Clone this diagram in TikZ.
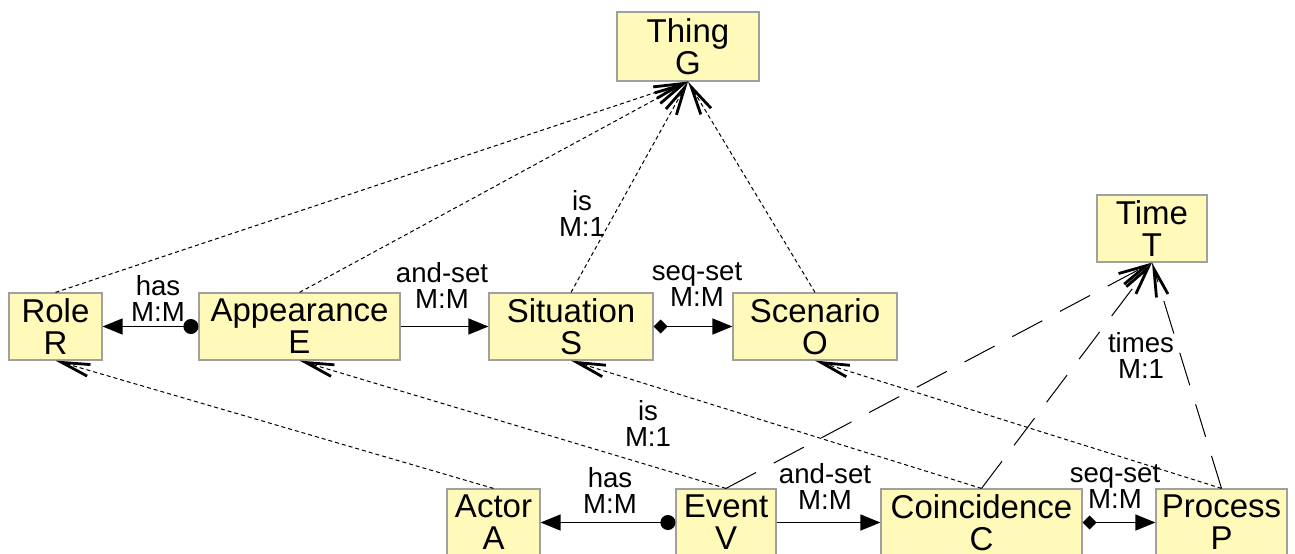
\documentclass[tikz,border=0pt]{standalone}
\usepackage{fontspec}
\setmainfont{Liberation Sans}
\usetikzlibrary{arrows.meta}
\definecolor{boxfill}{RGB}{255,250,185}
\definecolor{boxdraw}{RGB}{160,160,160}
\begin{document}
\begin{tikzpicture}[x=0.5pt,y=-0.5pt,
  cls/.style={draw=boxdraw, fill=boxfill, line width=0.6pt, minimum height=33.5pt,
    inner sep=0pt, align=center, font=\fontsize{16.5}{16}\selectfont},
  lbl/.style={align=center, inner sep=0pt, font=\fontsize{13.8}{13}\selectfont},
  barb/.style={-{Straight Barb[length=14pt,width=6pt,line width=1.4pt]}},
  isa/.style={barb, line width=0.5pt, dash pattern=on 2pt off 1.5pt},
  tm/.style={barb, line width=0.5pt, dash pattern=on 17pt off 10pt},
  rel/.style={line width=0.7pt},
  dotstart/.style={{Circle[length=7.5pt]}-{Triangle[length=10pt,width=8pt]}},
  diastart/.style={{Diamond[length=7pt,width=7pt]}-{Triangle[length=10pt,width=8pt]}},
  plainarr/.style={-{Triangle[length=10pt,width=8pt]}}
]
\useasboundingbox (0,0) rectangle (1295,553);
\clip (0,0) rectangle (1295,553);

\node[cls, minimum width=71pt, minimum height=34.5pt] (G) at (688,46.5) {Thing\\G};
\node[cls, minimum width=55pt] (T) at (1152,228.5) {Time\\T};
\node[cls, minimum width=46.5pt] (R) at (55.5,326.5) {Role\\R};
\node[cls, minimum width=100.5pt] (E) at (299.5,326.5) {Appearance\\E};
\node[cls, minimum width=82pt] (S) at (571,326.5) {Situation\\S};
\node[cls, minimum width=82pt] (O) at (815,326.5) {Scenario\\O};
\node[cls, minimum width=46.5pt] (A) at (493.5,522.5) {Actor\\A};
\node[cls, minimum width=50pt] (V) at (726,522.5) {Event\\V};
\node[cls, minimum width=100.5pt] (C) at (981.5,522.5) {Coincidence\\C};
\node[cls, minimum width=65.5pt] (P) at (1221.5,522.5) {Process\\P};

% generalisation to Thing
\draw[isa] (R.north) -- (G.south);
\draw[isa] (E.north) -- (G.south);
\draw[isa] (S.north) -- (G.south);
\draw[isa] (O.north) -- (G.south);

% is links from bottom row
\draw[isa] (A.north) -- (R.south);
\draw[isa] (V.north) -- (E.south);
\draw[isa] (C.north) -- (S.south);
\draw[isa] (P.north) -- (O.south);

% times links
\draw[tm] (V.north) -- (T.south);
\draw[tm] (C.north) -- (T.south);
\draw[tm] (P.north) -- (T.south);

% horizontal relations
\draw[rel, dotstart] (E.west) -- (R.east);
\draw[rel, plainarr] (E.east) -- (S.west);
\draw[rel, diastart] (S.east) -- (O.west);
\draw[rel, dotstart] (V.west) -- (A.east);
\draw[rel, plainarr] (V.east) -- (C.west);
\draw[rel, diastart] (C.east) -- (P.west);

% labels
\node[lbl] (l1) at (158,298) {has\\M:M};
\node[lbl] (l2) at (442,285) {and-set\\M:M};
\node[lbl] (l3) at (697,285) {seq-set\\M:M};
\node[lbl] (l4) at (582,213) {is\\M:1};
\node[lbl] (l5) at (648,423) {is\\M:1};
\node[lbl] (l6) at (1141,355) {times\\M:1};
\node[lbl] (l7) at (610,490) {has\\M:M};
\node[lbl] (l8) at (825,486) {and-set\\M:M};
\node[lbl] (l9) at (1115,487) {seq-set\\M:M};
\end{tikzpicture}
\end{document}
